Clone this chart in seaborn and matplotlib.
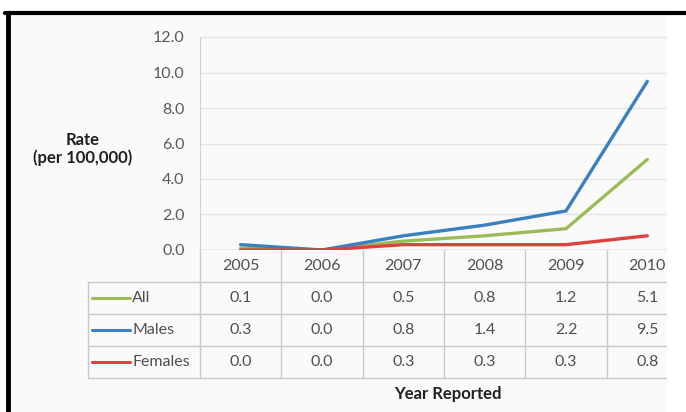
import numpy as np
import pandas as pd
import matplotlib
matplotlib.use("Agg")
import matplotlib.pyplot as plt
from matplotlib.patches import Rectangle
from matplotlib.lines import Line2D
import seaborn as sns

# data
years = ["2005", "2006", "2007", "2008", "2009", "2010"]
series_names = ["All", "Males", "Females"]
all_rate = [0.1, 0.0, 0.5, 0.8, 1.2, 5.1]
male_rate = [0.3, 0.0, 0.8, 1.4, 2.2, 9.5]
female_rate = [0.0, 0.0, 0.3, 0.3, 0.3, 0.8]
colors = {"All": "#9bbb59", "Males": "#3a7fc1", "Females": "#e0403f"}

df = pd.DataFrame({
    "pos": list(range(len(years))) * 3,
    "rate": all_rate + male_rate + female_rate,
    "group": [s for s in series_names for _ in years],
})

sns.set_style("white")
plt.rcParams["font.family"] = ["Lato", "DejaVu Sans"]
FS = 11.5

W, H = 686, 412
fig = plt.figure(figsize=(W / 100, H / 100), dpi=100)
fig.patch.set_facecolor("white")

def fx(px):
    return px / W

def fy(py):
    return 1 - py / H

# plot area in pixels (the right part is cropped in the source picture)
L, R = 200, 688
unit = (R - L) / len(years)

# light background inside the frame
fig.patches.append(Rectangle((fx(7), 0), fx(667) - fx(7), fy(14), transform=fig.transFigure,
                             facecolor="#fafafa", edgecolor="none", zorder=-5))

# main plot
ax = fig.add_axes([fx(L), fy(250), fx(R) - fx(L), fy(37) - fy(250)])
ax.set_facecolor("none")
sns.lineplot(data=df, x="pos", y="rate", hue="group", palette=colors, linewidth=2.4,
             legend=False, ax=ax)
ax.set_xlim(-0.5, len(years) - 0.5)
ax.set_ylim(0, 12)
ax.set_yticks(np.arange(0, 12.1, 2))
ax.set_yticklabels([f"{v:.1f}" for v in np.arange(0, 12.1, 2)], color="#595959", fontsize=FS)
ax.set_xticks([])
ax.set_xlabel("")
ax.set_ylabel("")
ax.grid(axis="y", color="#e4e4e4", linewidth=1)
for s in ["top", "right", "bottom"]:
    ax.spines[s].set_visible(False)
ax.spines["left"].set_color("#d0d0d0")
ax.tick_params(axis="y", length=3, color="#d0d0d0", pad=8)
ax.axhline(0, color="#bfbfbf", linewidth=1, zorder=1)

# data table under the plot, sharing the category positions
tab = fig.add_axes([fx(L), fy(378), fx(R) - fx(L), fy(250) - fy(378)])
tab.set_xlim(-0.5, len(years) - 0.5)
tab.set_ylim(4, 0)
tab.axis("off")
gc = "#c8c8c8"
tc = "#505050"
key_left = -0.5 - (L - 88) / unit
for i, y in enumerate(years):
    tab.text(i, 0.5, y, ha="center", va="center", fontsize=FS, color=tc)
for b in np.arange(-0.5, len(years) + 0.5):
    tab.plot([b, b], [0, 4], color=gc, linewidth=1, clip_on=False)
tab.plot([key_left, key_left], [1, 4], color=gc, linewidth=1, clip_on=False)
for r in [1, 2, 3, 4]:
    tab.plot([key_left, len(years) - 0.5], [r, r], color=gc, linewidth=1, clip_on=False)
rows = [all_rate, male_rate, female_rate]
for r, (name, vals) in enumerate(zip(series_names, rows)):
    yc = r + 1.5
    tab.plot([key_left + 4 / unit, key_left + 42 / unit], [yc, yc], color=colors[name],
             linewidth=2.2, clip_on=False)
    tab.text(key_left + 44 / unit, yc, name, ha="left", va="center", fontsize=FS, color=tc)
    for i, v in enumerate(vals):
        tab.text(i, yc, f"{v:.1f}", ha="center", va="center", fontsize=FS, color=tc)

fig.text(fx(448), fy(394), "Year Reported", ha="center", va="center", fontsize=12,
         fontweight="bold", color="#202020")
fig.text(fx(83), fy(149), "Rate\n(per 100,000)", ha="center", va="center", fontsize=12,
         fontweight="bold", color="#202020", linespacing=1.15)

# right side of the picture is cropped off
fig.patches.append(Rectangle((fx(667), 0), fx(686) - fx(667), fy(14), transform=fig.transFigure,
                             facecolor="white", edgecolor="none", zorder=50))
# black frame (top and left)
fig.lines.append(Line2D([fx(5), 1], [fy(13), fy(13)], transform=fig.transFigure,
                        color="black", linewidth=3, zorder=60))
fig.lines.append(Line2D([fx(8), fx(8)], [0, fy(13)], transform=fig.transFigure,
                        color="black", linewidth=3.5, zorder=60))

fig.savefig("out.png", dpi=100)
